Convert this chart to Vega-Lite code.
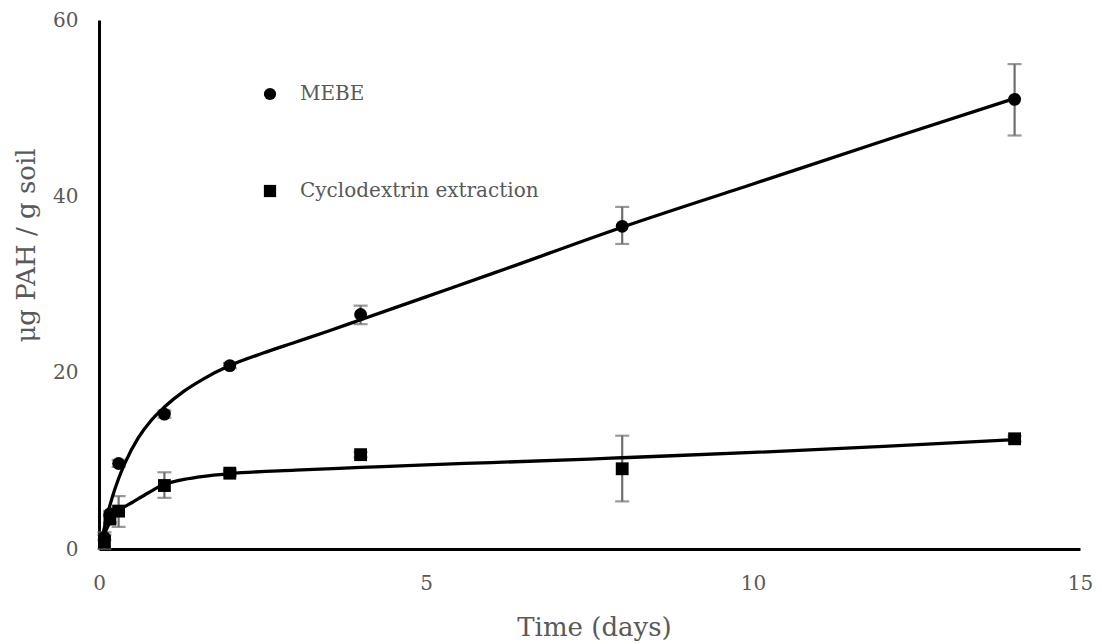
{
  "$schema": "https://vega.github.io/schema/vega-lite/v6.json",
  "width": 981,
  "height": 529,
  "autosize": {"type": "none"},
  "padding": {"left": 99, "top": 20, "right": 22, "bottom": 95},
  "background": "white",
  "config": {
    "view": {"stroke": null},
    "axis": {
      "grid": false,
      "ticks": false,
      "domainColor": "black",
      "domainWidth": 3,
      "labelColor": "#595959",
      "labelFont": "DejaVu Serif",
      "labelFontSize": 20,
      "titleColor": "#595959",
      "titleFont": "DejaVu Serif",
      "titleFontWeight": "normal",
      "titleFontSize": 26
    }
  },
  "datasets": {
    "points": [
      {"series": "MEBE", "t": 0.083, "v": 1.3, "lo": 1.0, "hi": 1.6},
      {"series": "MEBE", "t": 0.167, "v": 4.0, "lo": 3.7, "hi": 4.3},
      {"series": "MEBE", "t": 0.3, "v": 9.7, "lo": 9.3, "hi": 10.1},
      {"series": "MEBE", "t": 1, "v": 15.3, "lo": 14.9, "hi": 15.7},
      {"series": "MEBE", "t": 2, "v": 20.8, "lo": 20.5, "hi": 21.1},
      {"series": "MEBE", "t": 4, "v": 26.6, "lo": 25.5, "hi": 27.6},
      {"series": "MEBE", "t": 8, "v": 36.6, "lo": 34.6, "hi": 38.8},
      {"series": "MEBE", "t": 14, "v": 51.0, "lo": 46.9, "hi": 55.0},
      {"series": "Cyclodextrin extraction", "t": 0.083, "v": 0.8, "lo": 0.0, "hi": 1.9},
      {"series": "Cyclodextrin extraction", "t": 0.167, "v": 3.4, "lo": 3.0, "hi": 3.8},
      {"series": "Cyclodextrin extraction", "t": 0.3, "v": 4.3, "lo": 2.5, "hi": 6.0},
      {"series": "Cyclodextrin extraction", "t": 1, "v": 7.2, "lo": 5.8, "hi": 8.7},
      {"series": "Cyclodextrin extraction", "t": 2, "v": 8.6, "lo": 8.3, "hi": 8.9},
      {"series": "Cyclodextrin extraction", "t": 4, "v": 10.7, "lo": 10.4, "hi": 11.0},
      {"series": "Cyclodextrin extraction", "t": 8, "v": 9.1, "lo": 5.4, "hi": 12.85},
      {"series": "Cyclodextrin extraction", "t": 14, "v": 12.5, "lo": 12.2, "hi": 12.8}
    ],
    "curves": [
      {"series": "MEBE", "t": 0.03, "v": 0.6},
      {"series": "MEBE", "t": 0.1, "v": 3.0},
      {"series": "MEBE", "t": 0.2, "v": 5.8},
      {"series": "MEBE", "t": 0.3, "v": 8.0},
      {"series": "MEBE", "t": 0.4, "v": 9.8},
      {"series": "MEBE", "t": 0.6, "v": 12.6},
      {"series": "MEBE", "t": 0.8, "v": 14.6},
      {"series": "MEBE", "t": 1.0, "v": 16.1},
      {"series": "MEBE", "t": 1.3, "v": 17.9},
      {"series": "MEBE", "t": 1.6, "v": 19.3},
      {"series": "MEBE", "t": 2.0, "v": 20.8},
      {"series": "MEBE", "t": 2.5, "v": 22.2},
      {"series": "MEBE", "t": 3.0, "v": 23.45},
      {"series": "MEBE", "t": 3.5, "v": 24.7},
      {"series": "MEBE", "t": 4.0, "v": 26.0},
      {"series": "MEBE", "t": 5.0, "v": 28.6},
      {"series": "MEBE", "t": 6.0, "v": 31.2},
      {"series": "MEBE", "t": 8.0, "v": 36.5},
      {"series": "MEBE", "t": 10.0, "v": 41.4},
      {"series": "MEBE", "t": 12.0, "v": 46.3},
      {"series": "MEBE", "t": 14.0, "v": 51.1},
      {"series": "Cyclodextrin extraction", "t": 0.03, "v": 0.5},
      {"series": "Cyclodextrin extraction", "t": 0.1, "v": 2.0},
      {"series": "Cyclodextrin extraction", "t": 0.2, "v": 3.4},
      {"series": "Cyclodextrin extraction", "t": 0.25, "v": 3.95},
      {"series": "Cyclodextrin extraction", "t": 0.3, "v": 4.35},
      {"series": "Cyclodextrin extraction", "t": 0.35, "v": 4.6},
      {"series": "Cyclodextrin extraction", "t": 0.5, "v": 5.25},
      {"series": "Cyclodextrin extraction", "t": 0.75, "v": 6.35},
      {"series": "Cyclodextrin extraction", "t": 1.0, "v": 7.35},
      {"series": "Cyclodextrin extraction", "t": 1.1, "v": 7.55},
      {"series": "Cyclodextrin extraction", "t": 1.3, "v": 7.9},
      {"series": "Cyclodextrin extraction", "t": 1.6, "v": 8.25},
      {"series": "Cyclodextrin extraction", "t": 2.0, "v": 8.55},
      {"series": "Cyclodextrin extraction", "t": 3.0, "v": 8.95},
      {"series": "Cyclodextrin extraction", "t": 4.0, "v": 9.25},
      {"series": "Cyclodextrin extraction", "t": 5.0, "v": 9.55},
      {"series": "Cyclodextrin extraction", "t": 6.0, "v": 9.8},
      {"series": "Cyclodextrin extraction", "t": 7.5, "v": 10.2},
      {"series": "Cyclodextrin extraction", "t": 8.0, "v": 10.35},
      {"series": "Cyclodextrin extraction", "t": 10.0, "v": 10.95},
      {"series": "Cyclodextrin extraction", "t": 12.0, "v": 11.65},
      {"series": "Cyclodextrin extraction", "t": 14.0, "v": 12.4}
    ]
  },
  "encoding": {
    "x": {
      "field": "t",
      "type": "quantitative",
      "scale": {"domain": [0, 15], "nice": false, "zero": true},
      "axis": {
        "values": [0, 5, 10, 15],
        "title": "Time (days)",
        "labelPadding": 24,
        "labelFlush": false,
        "titleX": 495,
        "titleY": 78,
        "titleBaseline": "middle"
      }
    },
    "y": {
      "field": "v",
      "type": "quantitative",
      "scale": {"domain": [0, 60], "nice": false},
      "axis": {
        "values": [0, 20, 40, 60],
        "title": "μg PAH / g soil",
        "labelPadding": 21,
        "titleX": -73,
        "titleY": 225,
        "titleBaseline": "middle"
      }
    }
  },
  "layer": [
    {
      "data": {"name": "points"},
      "mark": {
        "type": "errorbar",
        "color": "#6e6e6e",
        "ticks": {"size": 14, "thickness": 2.2, "color": "#6e6e6e"},
        "rule": {"strokeWidth": 2.2, "color": "#6e6e6e"}
      },
      "encoding": {
        "y": {"field": "lo", "type": "quantitative"},
        "y2": {"field": "hi"}
      }
    },
    {
      "data": {"name": "curves"},
      "mark": {"type": "line", "interpolate": "monotone", "color": "black", "strokeWidth": 3.3},
      "encoding": {
        "detail": {"field": "series"}
      }
    },
    {
      "data": {"name": "points"},
      "mark": {"type": "point", "filled": true, "opacity": 1, "color": "black", "size": 165},
      "encoding": {
        "shape": {
          "field": "series",
          "type": "nominal",
          "scale": {"domain": ["MEBE", "Cyclodextrin extraction"], "range": ["circle", "square"]},
          "legend": {
            "title": null,
            "orient": "none",
            "legendX": 161,
            "legendY": 64,
            "padding": 0,
            "symbolSize": 150,
            "symbolFillColor": "black",
            "symbolStrokeColor": "black",
            "symbolStrokeWidth": 0,
            "symbolOpacity": 1,
            "labelFont": "DejaVu Serif",
            "labelFontSize": 20,
            "labelColor": "#595959",
            "labelOffset": 20,
            "rowPadding": 77,
            "labelLimit": 400
          }
        }
      }
    }
  ]
}
